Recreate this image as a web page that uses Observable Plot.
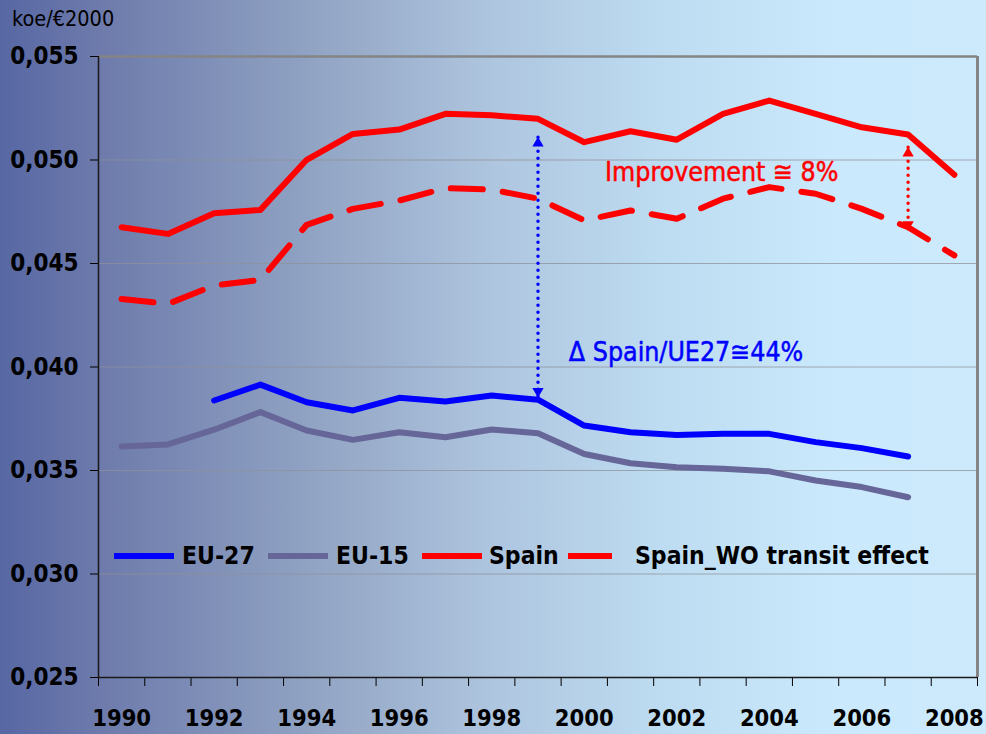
<!DOCTYPE html>
<html>
<head>
<meta charset="utf-8">
<script src="https://cdn.jsdelivr.net/npm/d3@7"></script>
<script src="https://cdn.jsdelivr.net/npm/@observablehq/plot@0.6"></script>
<style>
  html, body { margin: 0; padding: 0; }
  #wrap {
    position: relative; width: 986px; height: 734px; overflow: hidden;
    background: linear-gradient(to right, #5767a3 0%, #6d7aab 10%, #93a6c5 33%, #aec5df 50%, #bddcf1 67%, #cbe9fc 85%, #cdeafd 100%);
    font-family: 'DejaVu Sans Condensed', 'DejaVu Sans', sans-serif;
  }
  .koe { position: absolute; left: 12px; top: 6px; font-size: 21.5px; color: #000; }
  .lg-line { position: absolute; height: 6px; }
  .lg-text { position: absolute; font-size: 24.5px; font-weight: bold; line-height: 30px; color: #000; white-space: nowrap; }
</style>
</head>
<body>
<div id="wrap">
  <div class="koe">koe/€2000</div>
</div>
<script>
// ---- Data ----
const years = [1990, 1991, 1992, 1993, 1994, 1995, 1996, 1997, 1998, 1999, 2000, 2001, 2002, 2003, 2004, 2005, 2006, 2007, 2008];
const xLabels = [1990, 1992, 1994, 1996, 1998, 2000, 2002, 2004, 2006, 2008];
const yTicks = [0.025, 0.030, 0.035, 0.040, 0.045, 0.050, 0.055];

const spain   = [0.04675, 0.04643, 0.04743, 0.04759, 0.05001, 0.05126, 0.05147, 0.05223, 0.05216, 0.05199, 0.05086, 0.05139, 0.05098, 0.05223, 0.05287, 0.05223, 0.05158, 0.05123, 0.04929];
const spainWO = [0.04329, 0.04305, 0.04394, 0.04421, 0.04687, 0.04764, 0.04804, 0.04864, 0.04857, 0.04813, 0.04708, 0.04756, 0.04716, 0.04813, 0.04869, 0.04837, 0.04764, 0.04675, 0.04539];
const eu27    = [null, null, 0.03838, 0.03915, 0.03830, 0.03790, 0.03851, 0.03833, 0.03862, 0.03842, 0.03717, 0.03685, 0.03672, 0.03677, 0.03677, 0.03637, 0.03608, 0.03568, null];
const eu15    = [0.03616, 0.03626, 0.03697, 0.03782, 0.03693, 0.03648, 0.03685, 0.03661, 0.03698, 0.03680, 0.03580, 0.03535, 0.03516, 0.03508, 0.03496, 0.03452, 0.03420, 0.03371, null];

const seriesNames = ["EU-27", "EU-15", "Spain", "Spain_WO transit effect"];
const seriesColors = ["#0000ff", "#666699", "#ff0000", "#ff0000"];

const arrowYears   = [1999, 2007];
const arrowTops    = [0.0511, 0.05062];
const arrowBottoms = [0.03854, 0.04659];
const arrowColors  = ["#0000ff", "#ff0000"];

const noteTexts  = ["Improvement \u2245 8%", "\u0394 Spain/UE27\u224544%"];
const noteYears  = [2002.97, 2002.2];
const noteValues = [0.0494, 0.0407];
const noteColors = ["#ff0000", "#0000ff"];

// ---- Tables ----
const rows = years.map((year, i) => ({year, spain: spain[i], spainWO: spainWO[i], eu27: eu27[i], eu15: eu15[i]}));
const arrows = arrowYears.map((year, i) => ({year, top: arrowTops[i], bottom: arrowBottoms[i], color: arrowColors[i]}));
const notes = noteTexts.map((text, i) => ({text, year: noteYears[i], value: noteValues[i], color: noteColors[i]}));
const bounds = years.map(y => y - 0.5).concat([years[years.length - 1] + 0.5]);
const fmt = d => d.toFixed(3).replace(".", ",");
const F = "'DejaVu Sans Condensed', 'DejaVu Sans', sans-serif";

const plot = Plot.plot({
  width: 986, height: 734,
  marginTop: 56, marginBottom: 57, marginLeft: 98, marginRight: 9,
  style: {background: "transparent", fontFamily: F, color: "#000", overflow: "visible"},
  x: {type: "linear", domain: [bounds[0], bounds[bounds.length - 1]]},
  y: {domain: [0.025, 0.055]},
  marks: [
    Plot.gridY(yTicks.slice(1, -1), {stroke: "#8e9299", strokeOpacity: 0.75, strokeWidth: 1}),
    Plot.ruleY([0.055], {stroke: "#858585", strokeWidth: 2.5}),
    Plot.ruleX([bounds[bounds.length - 1]], {y1: 0.025, y2: 0.055, stroke: "#858585", strokeWidth: 3}),
    Plot.axisY({ticks: yTicks, tickFormat: fmt, tickSize: 8, tickPadding: 12, fontSize: 24, fontWeight: "bold", label: null}),
    Plot.axisX({ticks: bounds, tickSize: 9, tickFormat: () => "", label: null}),
    Plot.axisX({ticks: xLabels, tickSize: 0, tickPadding: 32, tickFormat: d => String(d), fontSize: 23.5, fontWeight: "bold", label: null}),
    Plot.ruleX([bounds[0]], {y1: 0.025, y2: 0.055, stroke: "#1a1a1a", strokeWidth: 1.5}),
    Plot.ruleY([0.025], {stroke: "#1a1a1a", strokeWidth: 1.5}),
    Plot.line(rows.filter(d => d.eu15 != null), {x: "year", y: "eu15", stroke: seriesColors[1], strokeWidth: 6, strokeLinejoin: "round"}),
    Plot.line(rows.filter(d => d.eu27 != null), {x: "year", y: "eu27", stroke: seriesColors[0], strokeWidth: 6, strokeLinejoin: "round"}),
    Plot.line(rows, {x: "year", y: "spain", stroke: seriesColors[2], strokeWidth: 6, strokeLinejoin: "round"}),
    Plot.line(rows, {x: "year", y: "spainWO", stroke: seriesColors[3], strokeWidth: 6, strokeDasharray: "32,20", strokeLinejoin: "round"}),
    Plot.link(arrows, {x1: "year", x2: "year", y1: "top", y2: "bottom", stroke: "color", strokeWidth: 3.5, strokeDasharray: "0,7", strokeLinecap: "round"}),
    Plot.dot(arrows, {x: "year", y: "top", symbol: "triangle", r: 4.2, fill: "color", stroke: "none", dy: 6}),
    Plot.dot(arrows, {x: "year", y: "bottom", symbol: "triangle", r: 4.2, fill: "color", stroke: "none", rotate: 180, dy: -6}),
    Plot.text(notes, {x: "year", y: "value", text: "text", fill: "color", fontSize: 26.5, textAnchor: "middle", fontFamily: F, stroke: "color", strokeWidth: 0.5})
  ]
});
plot.style.position = "absolute";
plot.style.left = "0px";
plot.style.top = "0px";
const wrap = document.getElementById("wrap");
wrap.appendChild(plot);

// ---- Legend (HTML overlay) ----
const lgLineX = [114, 268, 422, 568];
const lgLineW = [60, 60, 60, 44];
const lgTextX = [182, 336, 489, 635];
seriesNames.forEach((name, i) => {
  const ln = document.createElement("div");
  ln.className = "lg-line";
  ln.style.left = lgLineX[i] + "px";
  ln.style.top = "553px";
  ln.style.width = lgLineW[i] + "px";
  ln.style.background = seriesColors[i];
  wrap.appendChild(ln);
  const tx = document.createElement("div");
  tx.className = "lg-text";
  tx.style.left = lgTextX[i] + "px";
  tx.style.top = "541px";
  tx.textContent = name;
  wrap.appendChild(tx);
});
</script>
</body>
</html>
